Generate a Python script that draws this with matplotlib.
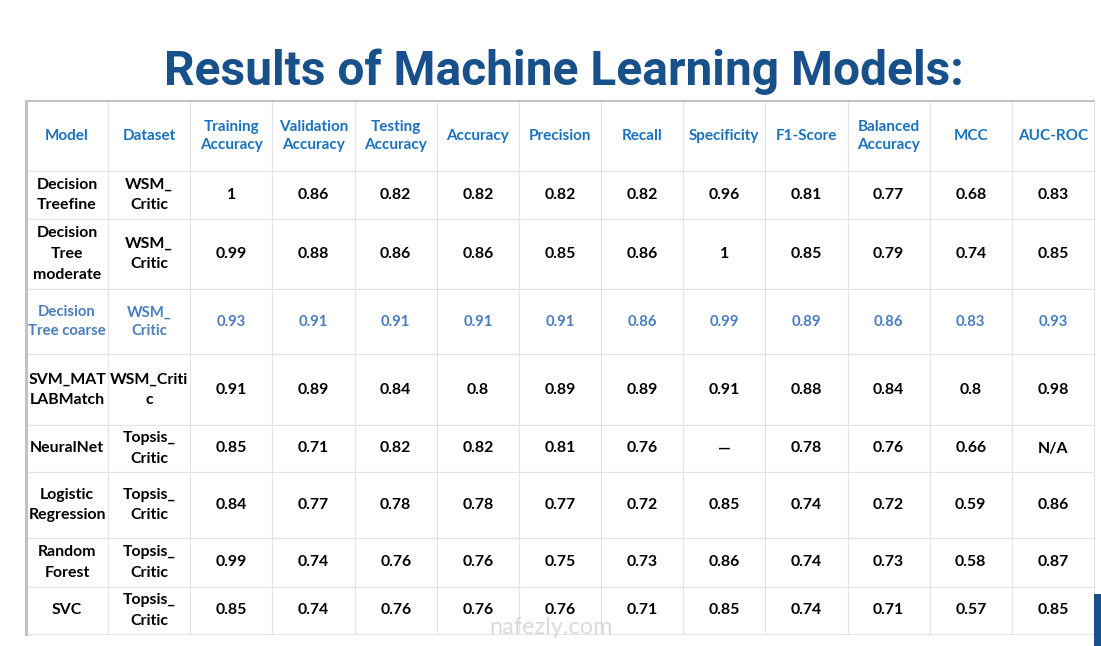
import matplotlib
matplotlib.use("Agg")
import matplotlib.pyplot as plt
from matplotlib.patches import Rectangle

# ---------------- data ----------------
title = "Results of Machine Learning Models:"
headers = ["Model", "Dataset", "Training\nAccuracy", "Validation\nAccuracy", "Testing\nAccuracy",
           "Accuracy", "Precision", "Recall", "Specificity", "F1-Score", "Balanced\nAccuracy",
           "MCC", "AUC-ROC"]
models = ["Decision\nTreefine", "Decision\nTree\nmoderate", "Decision\nTree coarse", "SVM_MAT\nLABMatch",
          "NeuralNet", "Logistic\nRegression", "Random\nForest", "SVC"]
datasets = ["WSM_\nCritic", "WSM_\nCritic", "WSM_\nCritic", "WSM_Criti\nc",
            "Topsis_\nCritic", "Topsis_\nCritic", "Topsis_\nCritic", "Topsis_\nCritic"]
training_acc = [1, 0.99, 0.93, 0.91, 0.85, 0.84, 0.99, 0.85]
validation_acc = [0.86, 0.88, 0.91, 0.89, 0.71, 0.77, 0.74, 0.74]
testing_acc = [0.82, 0.86, 0.91, 0.84, 0.82, 0.78, 0.76, 0.76]
accuracy = [0.82, 0.86, 0.91, 0.8, 0.82, 0.78, 0.76, 0.76]
precision = [0.82, 0.85, 0.91, 0.89, 0.81, 0.77, 0.75, 0.76]
recall = [0.82, 0.86, 0.86, 0.89, 0.76, 0.72, 0.73, 0.71]
specificity = [0.96, 1, 0.99, 0.91, None, 0.85, 0.86, 0.85]
f1_score = [0.81, 0.85, 0.89, 0.88, 0.78, 0.74, 0.74, 0.74]
balanced_acc = [0.77, 0.79, 0.86, 0.84, 0.76, 0.72, 0.73, 0.71]
mcc = [0.68, 0.74, 0.83, 0.8, 0.66, 0.59, 0.58, 0.57]
auc_roc = [0.83, 0.85, 0.93, 0.98, None, 0.86, 0.87, 0.85]
missing_labels = {"Specificity": "\u2014", "AUC-ROC": "N/A"}
highlight_row = 2  # "Decision Tree coarse" row drawn in lighter blue

metric_columns = [("Training", training_acc), ("Validation", validation_acc), ("Testing", testing_acc),
                  ("Accuracy", accuracy), ("Precision", precision), ("Recall", recall),
                  ("Specificity", specificity), ("F1-Score", f1_score), ("Balanced", balanced_acc),
                  ("MCC", mcc), ("AUC-ROC", auc_roc)]

def fmt(v, name):
    if v is None:
        return missing_labels.get(name, "")
    return f"{v:g}"

rows = []
for i in range(len(models)):
    row = [models[i], datasets[i]] + [fmt(vals[i], name) for name, vals in metric_columns]
    rows.append(row)
cell_text = [headers] + rows

# ---------------- layout ----------------
W, H = 1101, 646
fig = plt.figure(figsize=(W / 100, H / 100), dpi=100)
fig.patch.set_facecolor("white")
ax = fig.add_axes([0, 0, 1, 1])
ax.set_xlim(0, W)
ax.set_ylim(H, 0)
ax.axis("off")

tab_left, tab_right, tab_top, tab_bottom = 26, 1094, 101, 634
row_heights = [70, 48, 70, 65, 71, 47, 66, 49, 47]

header_color = "#1a72bd"
highlight_color = "#4a7dbc"
grid_color = "#e4e4e4"
title_color = "#17508a"
font_body = ["Lato", "DejaVu Sans"]

bbox = [tab_left / W, 1 - tab_bottom / H, (tab_right - tab_left) / W, (tab_bottom - tab_top) / H]
table = ax.table(cellText=cell_text, cellLoc="center", bbox=bbox, transform=ax.transAxes)
table.auto_set_font_size(False)
table.set_fontsize(11)
for (r, c), cell in table.get_celld().items():
    cell.set_height(row_heights[r])
    cell.set_width(1.0)
    cell.set_edgecolor(grid_color)
    cell.set_linewidth(0.8)
    cell.set_facecolor("white")
    t = cell.get_text()
    t.set_fontfamily(font_body)
    t.set_fontweight("bold")
    t.set_linespacing(1.6)
    if r == 0:
        t.set_color(header_color)
        t.set_fontsize(11)
        t.set_linespacing(1.45)
    elif r - 1 == highlight_row:
        t.set_color(highlight_color)
        t.set_fontsize(10.7)
        t.set_linespacing(1.4)
    else:
        t.set_color("black")
        t.set_fontsize(11.4)

# table borders
ax.plot([tab_left, tab_right], [tab_top, tab_top], color="#bdbdbd", lw=1.3, zorder=5)
ax.plot([tab_left, tab_left], [tab_top, tab_bottom], color="#c2c2c2", lw=2.2, zorder=5)

# title
fig.text(0.512, 1 - 85 / H, title, ha="center", va="baseline", color=title_color,
         fontsize=34.5, fontweight="bold", family=["Roboto", "DejaVu Sans"])

# watermark
ax.text(551, 634, "nafezly.com", ha="center", va="baseline", color="#9a9a9a", alpha=0.35,
        fontsize=17, family=["Lato", "DejaVu Sans"], zorder=6)

# decorative corner bar
ax.add_patch(Rectangle((1094, 594), 7, 52, facecolor="#1b4f87", edgecolor="none", zorder=6))

fig.savefig("out.png", dpi=100, facecolor="white")
